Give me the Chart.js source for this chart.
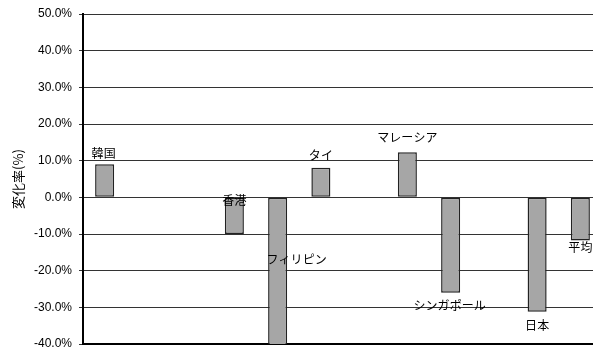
<!DOCTYPE html>
<html>
<head>
<meta charset="utf-8">
<script src="https://cdn.jsdelivr.net/npm/chart.js@4/dist/chart.umd.min.js"></script>
<style>
  html, body { margin: 0; padding: 0; background: #fff; overflow: hidden; }
  #wrap { width: 602px; height: 351px; }
</style>
</head>
<body>
<div id="wrap"><canvas id="chart"></canvas></div>
<script>
// データ (空欄は国名なし)
const categories = ['韓国', '', '', '香港', 'フィリピン', 'タイ', '', 'マレーシア', 'シンガポール', '', '日本', '平均'];
const changeRates = [9.0, null, null, -10.0, -41.0, 8.1, null, 12.3, -26.0, null, -31.2, -11.8];
const tickValues = [50, 40, 30, 20, 10, 0, -10, -20, -30, -40];

// ラベルの位置ずれ (棒の端からの px)
const labelOffsets = [[-1, -11], null, null, [0, -34], [19, 0], [0, -12], null, [0, -15], [-1, 13], null, [0, 14], [0, 7]];

const barLabels = {
    id: 'barLabels',
    afterDatasetsDraw(chart) {
        const ctx = chart.ctx;
        const meta = chart.getDatasetMeta(0);
        const yScale = chart.scales.y;
        ctx.save();
        ctx.font = '12px "Noto Sans CJK JP"';
        ctx.fillStyle = '#000';
        ctx.textAlign = 'center';
        ctx.textBaseline = 'middle';
        meta.data.forEach((bar, i) => {
            if (changeRates[i] === null || !categories[i]) return;
            const off = labelOffsets[i] || [0, 0];
            // フィリピンは棒の途中に表示
            const y = i === 4 ? yScale.getPixelForValue(-17) : bar.y;
            ctx.fillText(categories[i], bar.x + off[0], y + off[1]);
        });
        ctx.restore();
    }
};

new Chart(document.getElementById('chart').getContext('2d'), {
    type: 'bar',
    data: {
        labels: categories,
        datasets: [{
            data: changeRates,
            backgroundColor: '#a6a6a6',
            borderColor: '#222',
            borderWidth: 1.5,
            borderSkipped: false,
            barPercentage: 0.44,
            categoryPercentage: 1
        }]
    },
    options: {
        responsive: true,
        maintainAspectRatio: false,
        animation: false,
        layout: { padding: { top: 14, right: 0, bottom: 7, left: 10 } },
        plugins: { legend: { display: false }, tooltip: { enabled: false } },
        scales: {
            x: {
                grid: { display: false },
                border: { color: '#000', width: 2 },
                ticks: { display: false },
                afterFit: (scale) => { scale.height = 0; }
            },
            y: {
                min: -40,
                max: 50,
                afterBuildTicks: (scale) => { scale.ticks = tickValues.map(v => ({ value: v })); },
                afterFit: (scale) => {
                    scale.width = 73;
                    scale.paddingTop = 0;
                    scale.paddingBottom = 0;
                },
                grid: { color: '#333', lineWidth: 1, tickLength: 4, drawTicks: true },
                border: { color: '#000', width: 2 },
                ticks: {
                    color: '#000',
                    font: { family: '"Liberation Sans", Arial', size: 12 },
                    padding: 7,
                    callback: (v) => v.toFixed(1) + '%'
                },
                title: {
                    display: true,
                    text: '変化率(%)',
                    color: '#000',
                    font: { family: '"Noto Sans CJK JP"', size: 13 },
                    padding: { top: 0, bottom: 0 }
                }
            }
        }
    },
    plugins: [barLabels]
});
</script>
</body>
</html>
